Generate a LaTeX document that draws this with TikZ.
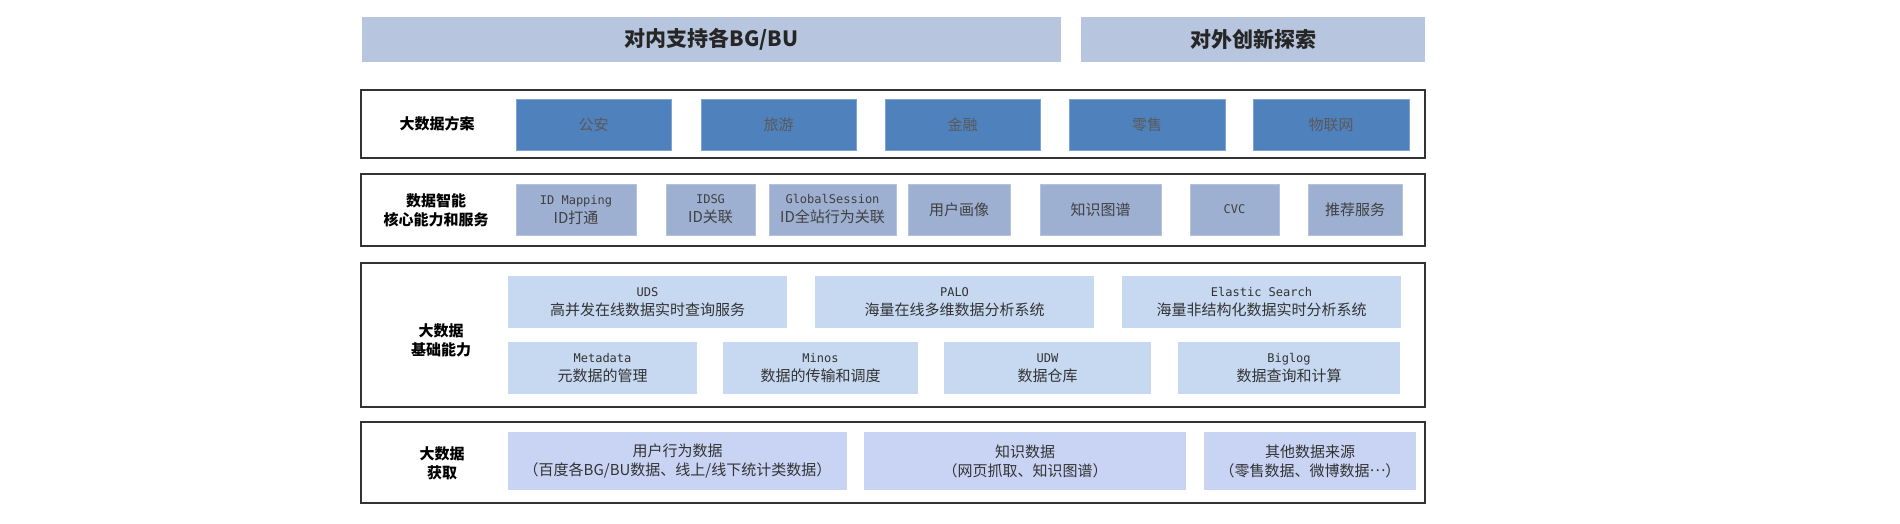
\documentclass[tikz,border=0pt]{standalone}
\usepackage{fontspec}
\setmainfont{Noto Sans CJK SC}
\setmonofont{DejaVu Sans Mono}
\usepackage{xcolor}
\usepackage{tikz}

\definecolor{topfill}{HTML}{B7C6DE}
\definecolor{solfill}{HTML}{4F81BD}
\definecolor{solline}{HTML}{7FA3D3}
\definecolor{corefill}{HTML}{9DB0D1}
\definecolor{coreline}{HTML}{B3C3DE}
\definecolor{basefill}{HTML}{C6D9F1}
\definecolor{srcfill}{HTML}{C9D3F3}

\newcommand{\mono}[1]{{\ttfamily\fontsize{12}{19}\selectfont #1}}
\newcommand{\middots}{\raisebox{0.32em}{…}}

\begin{document}
\begin{tikzpicture}[
  x=1pt, y=-1pt,
  font=\fontsize{15}{19}\selectfont,
  top/.style  ={rectangle, fill=topfill, text=black!85, font=\fontsize{21}{25}\selectfont\bfseries, minimum height=45pt, inner sep=0pt},
  layer/.style={rectangle, draw=black!80, line width=1.3pt, fill=white, minimum width=1064pt, inner sep=0pt},
  lbl/.style  ={align=center, font=\fontsize{15}{19}\selectfont\bfseries},
  sol/.style  ={rectangle, draw=solline, fill=solfill, text=black!65, minimum height=51pt, inner sep=0pt},
  core/.style ={rectangle, draw=coreline, fill=corefill, text=black!75, align=center, minimum height=51pt, inner sep=0pt},
  base/.style ={rectangle, fill=basefill, text=black!80, align=center, minimum height=52pt, inner sep=0pt},
  src/.style  ={rectangle, fill=srcfill, text=black!80, align=center, minimum height=58pt, inner sep=0pt},
]
\useasboundingbox[fill=white] (0,0) rectangle (1900,523);
% top
\node[top, minimum width=699pt] (inner) at (711.5,39.5) {对内支持各BG/BU};
\node[top, minimum width=344pt] (outer) at (1253,39.5)  {对外创新探索};
% layers
\node[layer, minimum height=68pt]  (solrow)  at (893,124)   {};
\node[layer, minimum height=72pt]  (corerow) at (893,210)   {};
\node[layer, minimum height=144pt] (baserow) at (893,335)   {};
\node[layer, minimum height=81pt]  (srcrow)  at (893,462.5) {};
\node[lbl] (sollbl)  at (437,124) {大数据方案};
\node[lbl] (corelbl) at (436,210) {数据智能\\核心能力和服务};
\node[lbl] (baselbl) at (441,340) {大数据\\基础能力};
\node[lbl] (srclbl)  at (442,463) {大数据\\获取};
% solutions
\node[sol, minimum width=155pt] (police)  at (593.5,124.5) {公安};
\node[sol, minimum width=155pt] (travel)  at (778.5,124.5) {旅游};
\node[sol, minimum width=155pt] (finance) at (962.5,124.5) {金融};
\node[sol, minimum width=156pt] (retail)  at (1147,124.5)  {零售};
\node[sol, minimum width=156pt] (iot)     at (1331,124.5)  {物联网};
% core abilities
\node[core, minimum width=120pt] (idmap)   at (576,209.5)    {\mono{ID Mapping}\\ID打通};
\node[core, minimum width=89pt]  (idsg)    at (710.5,209.5)  {\mono{IDSG}\\ID关联};
\node[core, minimum width=127pt] (session) at (832.5,209.5)  {\mono{GlobalSession}\\ID全站行为关联};
\node[core, minimum width=102pt] (profile) at (959,209.5)    {用户画像};
\node[core, minimum width=121pt] (kgraph)  at (1100.5,209.5) {知识图谱};
\node[core, minimum width=89pt]  (cvc)     at (1234.5,209.5) {\mono{CVC}};
\node[core, minimum width=94pt]  (recsvc)  at (1355,209.5)   {推荐服务};
% base abilities
\node[base, minimum width=279pt] (uds)     at (647.5,302)  {\mono{UDS}\\高并发在线数据实时查询服务};
\node[base, minimum width=279pt] (palo)    at (954.5,302)  {\mono{PALO}\\海量在线多维数据分析系统};
\node[base, minimum width=279pt] (elastic) at (1261.5,302) {\mono{Elastic Search}\\海量非结构化数据实时分析系统};
\node[base, minimum width=189pt] (meta)    at (602.5,368)  {\mono{Metadata}\\元数据的管理};
\node[base, minimum width=195pt] (minos)   at (820.5,368)  {\mono{Minos}\\数据的传输和调度};
\node[base, minimum width=207pt] (udw)     at (1047.5,368) {\mono{UDW}\\数据仓库};
\node[base, minimum width=222pt] (biglog)  at (1289,368)   {\mono{Biglog}\\数据查询和计算};
% sources
\node[src, minimum width=339pt] (behav) at (677.5,461) {用户行为数据\\（百度各BG/BU数据、线上/线下统计类数据）};
\node[src, minimum width=322pt] (know)  at (1025,461)  {知识数据\\（网页抓取、知识图谱）};
\node[src, minimum width=212pt] (other) at (1310,461)  {其他数据来源\\（零售数据、微博数据\middots）};
\end{tikzpicture}
\end{document}
